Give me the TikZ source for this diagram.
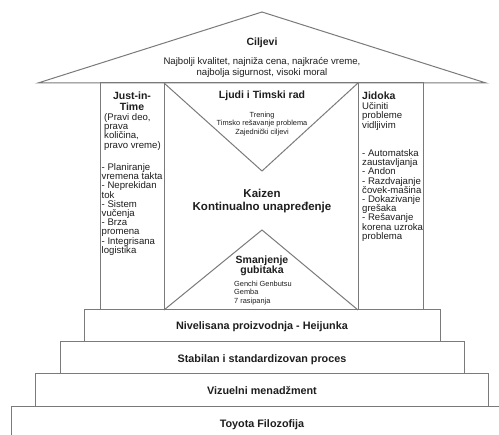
\documentclass[tikz,border=0pt]{standalone}
\usepackage{fontspec}
\setmainfont{Liberation Sans}
\definecolor{linegray}{HTML}{7A7A7A}
\definecolor{txt}{HTML}{1E1E1E}
\begin{document}
\begin{tikzpicture}[x=1pt,y=-1pt,
  edge/.style={draw=linegray, line width=1pt, line join=miter},
  ttl/.style={font=\fontsize{10.5}{10.5}\selectfont\bfseries, text=txt, inner sep=0pt, align=center},
  big/.style={font=\fontsize{11.5}{13}\selectfont\bfseries, text=txt, inner sep=0pt, align=center},
  steptxt/.style={font=\fontsize{10.8}{12}\selectfont\bfseries, text=txt, inner sep=0pt},
  body/.style={font=\fontsize{9.6}{9.2}\selectfont, text=txt, inner sep=0pt, align=left},
  bodyb/.style={font=\fontsize{9.6}{9.5}\selectfont, text=txt, inner sep=0pt, align=left},
  roofbody/.style={font=\fontsize{9.6}{11}\selectfont, text=txt, inner sep=0pt, align=center},
  small/.style={font=\fontsize{7.4}{8.4}\selectfont, text=txt, inner sep=0pt},
]
\clip (0,0) rectangle (499,435);
\fill[white] (0,0) rectangle (499,435);

% roof
\coordinate (rl) at (38,83);
\coordinate (ra) at (262,12);
\coordinate (rr) at (486,83);
\draw[edge] (rl) -- (ra) -- (rr) -- cycle;

% pillars and centre
\draw[edge] (100,83) rectangle (164,310);
\draw[edge] (164,83) rectangle (358,310);
\draw[edge] (358,83) rectangle (423,310);

% triangles
\coordinate (tl) at (164,83);
\coordinate (tr) at (358,83);
\coordinate (ta) at (262,171);
\draw[edge] (tl) -- (ta) -- (tr);
\coordinate (bl) at (164,310);
\coordinate (br) at (358,310);
\coordinate (ba) at (262,230);
\draw[edge] (bl) -- (ba) -- (br);

% steps
\draw[edge] (84,310) rectangle (440,342);
\draw[edge] (60,342) rectangle (464,374);
\draw[edge] (35,374) rectangle (488,407);
\draw[edge] (11,407) rectangle (530,470);

% roof text (base anchor = baseline of the last line)
\node[ttl, anchor=base] (cilj) at (262,46) {Ciljevi};
\node[roofbody, anchor=base] (ciljt) at (262,75.5) {Najbolji kvalitet, najniža cena, najkraće vreme,\\najbolja sigurnost, visoki moral};

% left pillar
\node[ttl, anchor=base] (jit) at (132,110.5) {Just-in-\\Time};
\node[body, anchor=base west] (jit1) at (104,148.1) {(Pravi deo,\\prava\\količina,\\pravo vreme)};
\node[body, anchor=base west] (jit2) at (101.5,253.3) {- Planiranje\\vremena takta\\- Neprekidan\\tok\\- Sistem\\vučenja\\- Brza\\promena\\- Integrisana\\logistika};

% right pillar
\node[ttl, anchor=base west] (jid) at (362,99.5) {Jidoka};
\node[bodyb, anchor=base west] (jid1) at (362,128.5) {Učiniti\\probleme\\vidljivim};
\node[body, anchor=base west] (jid2) at (362,239.3) {- Automatska\\zaustavljanja\\- Andon\\- Razdvajanje\\čovek-mašina\\- Dokazivanje\\grešaka\\- Rešavanje\\korena uzroka\\problema};

% centre
\node[ttl, anchor=base] (ljudi) at (262,99) {Ljudi i Timski rad};
\node[small, anchor=base, align=center] (ljudit) at (262,134.3) {Trening\\Timsko rešavanje problema\\Zajednički ciljevi};
\node[big, anchor=base] (kaizen) at (262,210.5) {Kaizen\\Kontinualno unapređenje};
\node[ttl, anchor=base] (sman) at (262,274) {Smanjenje\\gubitaka};
\node[small, anchor=base west, align=left] (smant) at (234,303.3) {Genchi Genbutsu\\Gemba\\7 rasipanja};

% step texts
\node[steptxt, anchor=base] (s1) at (262,330) {Nivelisana proizvodnja - Heijunka};
\node[steptxt, anchor=base] (s2) at (262,362.5) {Stabilan i standardizovan proces};
\node[steptxt, anchor=base] (s3) at (262,395) {Vizuelni menadžment};
\node[steptxt, anchor=base] (s4) at (262,428) {Toyota Filozofija};
\end{tikzpicture}
\end{document}
